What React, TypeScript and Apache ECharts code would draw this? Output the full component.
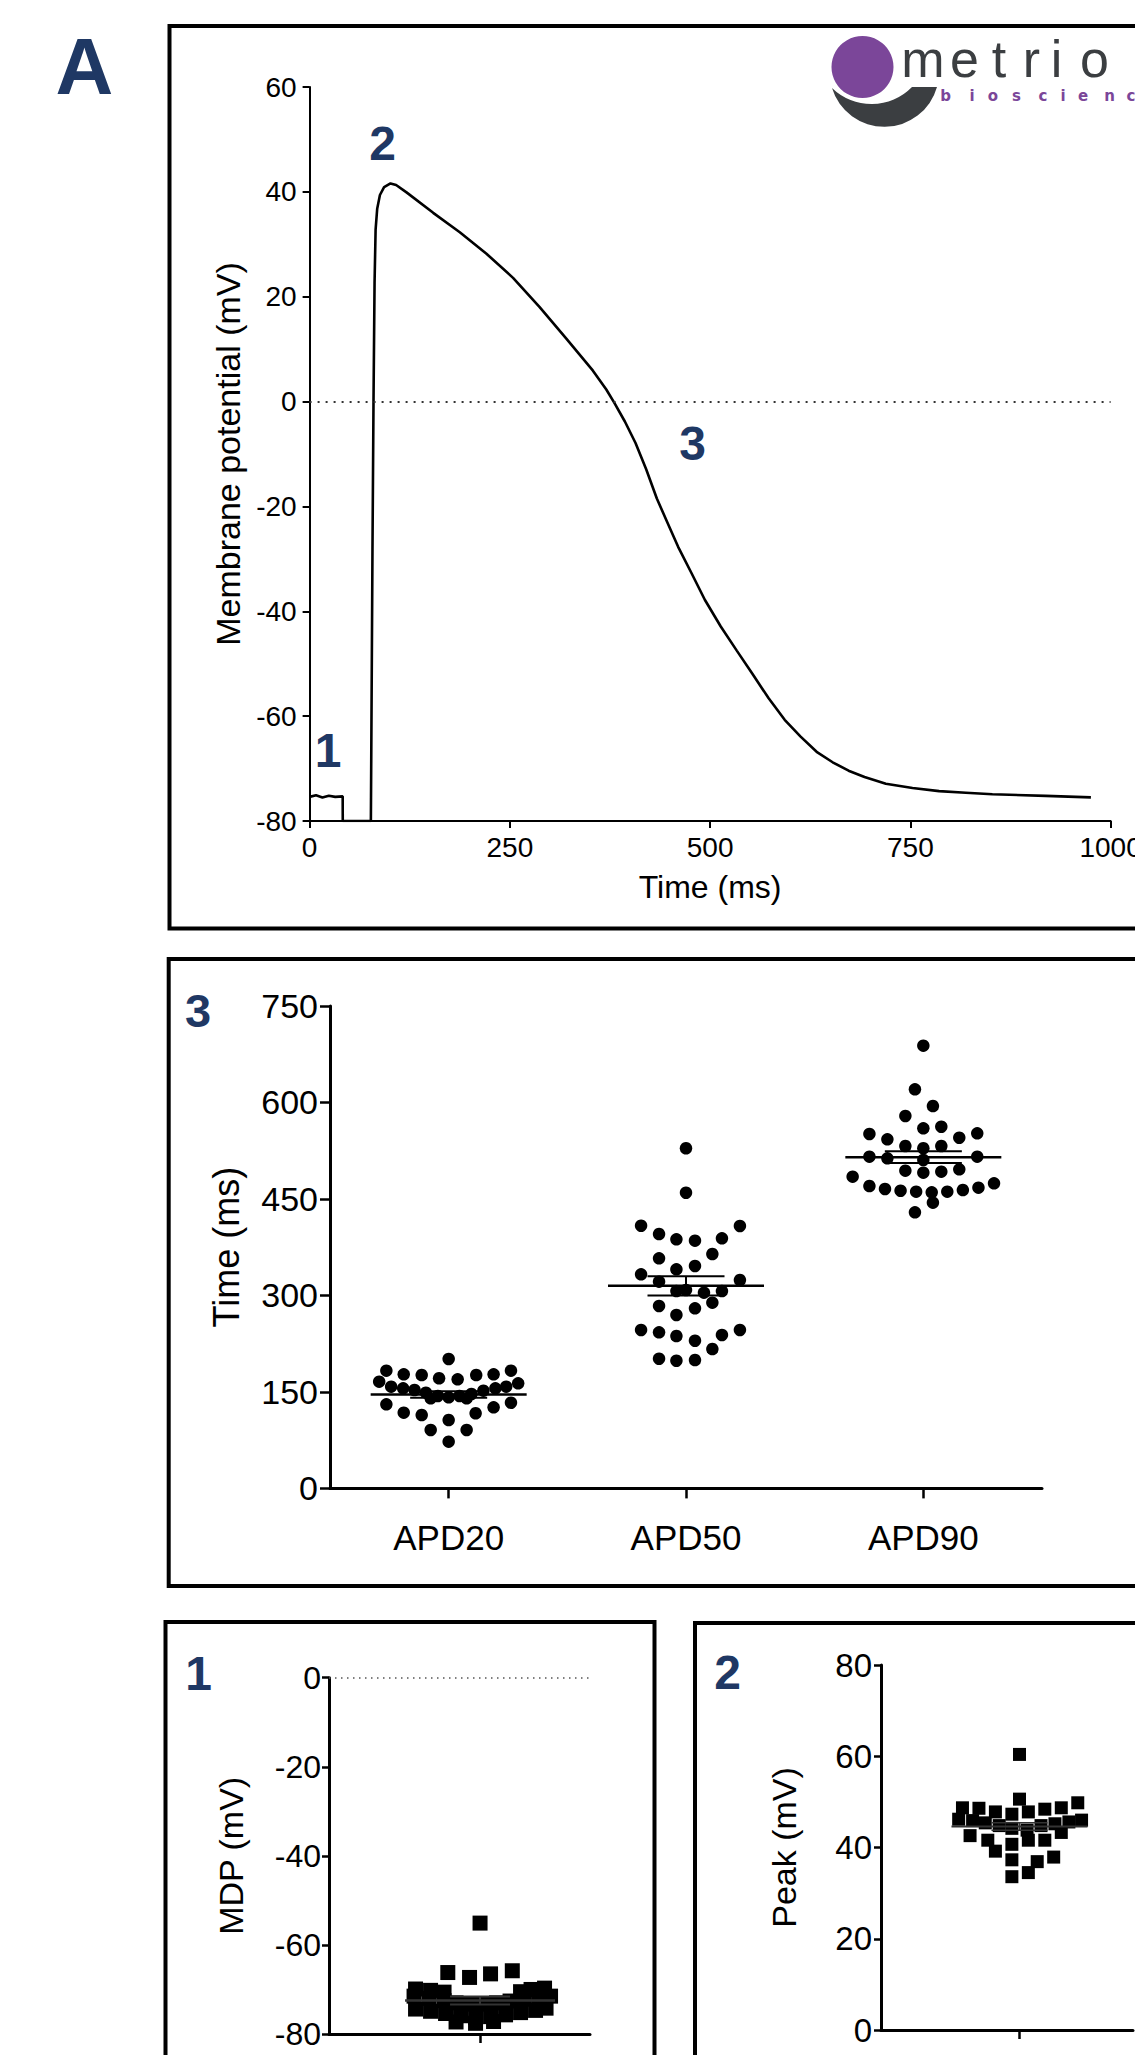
import React, { useEffect, useRef } from "react";
import * as echarts from "echarts";

// ---------- Panel A: action potential trace ----------
const apTime = [0, 8, 16, 24, 32, 41.3, 41.4, 76.5, 78.5, 79.8, 81.1, 82.4, 84.4, 87.8, 93.0, 101.0, 108.0, 121.0, 154.3, 187.5, 220.8, 254.0, 287.2, 320.5, 353.7, 370.4, 380.3, 393.6, 406.9, 420.2, 433.5, 446.8, 460.1, 476.7, 493.4, 513.3, 533.3, 553.2, 573.1, 593.1, 613.0, 633.0, 653.0, 672.9, 692.8, 719.4, 752.7, 785.9, 819.2, 852.4, 918.9, 975.4];
const apVoltage = [-75.4, -75.1, -75.5, -75.2, -75.4, -75.3, -80, -80, -28.2, 0.3, 22.6, 32.8, 36.8, 39.4, 40.9, 41.6, 41.3, 39.9, 36.0, 32.3, 28.2, 23.6, 18.0, 12.0, 5.9, 2.3, -0.2, -3.8, -7.9, -12.9, -18.5, -23.1, -27.7, -32.7, -37.8, -42.9, -47.5, -52.0, -56.6, -60.7, -63.9, -66.8, -68.8, -70.4, -71.6, -72.9, -73.7, -74.3, -74.6, -74.9, -75.2, -75.5];

// ---------- Panel 3: APD ----------
const apdCategories = ["APD20", "APD50", "APD90"];
const apd20Values = [201.2, 183, 177.4, 176.3, 171.2, 169.6, 176.3, 177.4, 183, 165.9, 163.4, 158.1, 155.6, 153, 148.8, 143.7, 141.6, 143.7, 146.8, 151.9, 155.6, 158.1, 130.7, 133.2, 117.7, 126.1, 114.1, 116.8, 106.3, 90.8, 90.8, 72.6, 140, 140];
const apd20Offsets = [0, -5.2, -3.75, -2.25, -0.8, 0.75, 2.3, 3.75, 5.2, -5.8, 5.8, -4.8, -3.8, -2.85, -1.9, -0.9, 0, 0.9, 1.9, 2.9, 3.9, 4.8, -5.2, 5.2, -3.75, 3.75, -2.25, 2.25, 0, -1.5, 1.5, 0, -1.5, 1.5];
const apd50Values = [528.8, 459.7, 408.4, 408, 395.5, 387.3, 385.1, 388.8, 364.4, 357.7, 340.6, 345.8, 332.8, 324, 321.4, 306.9, 304.3, 306.9, 288.7, 283.6, 280, 269.6, 246.3, 242.7, 236.9, 229.6, 238.5, 246.3, 216.7, 201.6, 198.5, 199.6, 308.5];
const apd50Offsets = [0, 0, -3.75, 4.5, -2.25, -0.8, 0.75, 3, 2.2, -2.25, -0.8, 0.75, -3.75, 4.5, -2.25, -0.8, 1.5, 3, 2.2, -2.25, 0.75, -0.8, -3.75, -2.25, -0.8, 0.75, 3, 4.5, 2.2, -2.25, -0.8, 0.75, 0];
const apd90Values = [688.3, 620.5, 594.5, 579, 559.8, 562.3, 551, 552, 542.7, 545.2, 532.3, 528.8, 532.3, 515.7, 513.2, 515.7, 510.6, 494, 490.9, 492.4, 496.1, 484.6, 474.3, 470.1, 465.5, 462.8, 461.3, 460.3, 461.3, 463.9, 467.5, 444.2, 429.2];
const apd90Offsets = [0, -0.7, 0.8, -1.5, 0, 1.5, -4.5, 4.5, -3, 3, -1.5, 0, 1.5, -4.5, -3, 4.5, 0, -1.5, 0, 1.5, 3, -5.9, 5.9, -4.5, -3.2, -1.9, -0.6, 0.7, 2, 3.3, 4.6, 0.8, -0.7];
const apdMeans = [146, 315, 515];
const apdSems = [5, 15, 9];

// ---------- Panel 1: MDP ----------
const mdpValues = [-55.1, -66.2, -67.3, -66.5, -65.8, -69.9, -70.2, -70.6, -70.5, -70.0, -69.7, -71.5, -72.0, -72.5, -73.0, -73.3, -73.3, -73.0, -72.6, -72.2, -71.8, -71.5, -74.4, -74.9, -75.4, -75.9, -76.3, -76.1, -75.7, -75.2, -74.7, -74.2, -77.3, -77.6, -77.2];
const mdpOffsets = [0, -2.15, -0.7, 0.7, 2.15, -4.3, -3.3, -2.4, 2.7, 3.4, 4.3, -4.4, -3.4, -2.4, -1.6, -0.7, 0.2, 1.1, 2, 2.9, 3.9, 4.7, -4.3, -3.3, -2.3, -1.3, -0.3, 0.7, 1.7, 2.7, 3.7, 4.4, -1.6, -0.3, 0.9];
const mdpMean = -72.5;
const mdpSem = 0.9;

// ---------- Panel 2: Peak ----------
const peakValues = [60.4, 50.6, 48.7, 48.6, 47.8, 47.3, 47.8, 48.4, 48.7, 49.8, 46.2, 45.9, 45.4, 44.8, 44.2, 43.8, 44.8, 45.2, 45.6, 46.0, 42.6, 41.6, 40.7, 41.6, 41.6, 43.3, 39.2, 37.3, 36.9, 37.9, 33.6, 34.5];
const peakOffsets = [0, 0, -4.5, -3.2, -1.9, -0.6, 0.7, 2, 3.3, 4.6, -4.8, -3.7, -2.7, -1.6, -0.6, 0.6, 1.7, 2.8, 3.9, 4.9, -3.9, -2.5, -0.6, 0.7, 2, 3.3, -1.9, -0.6, 1.4, 2.7, -0.6, 0.7];
const peakMean = 44.6;
const peakSem = 0.8;

// ---------- styling constants ----------
const NAVY = "#1f3864";
const PURPLE = "#7b4699";
const LOGO_GREY = "#3b3e41";
const ARIAL = "Liberation Sans";
const APD_UNIT = 12 / 237.7; // one dot pitch in category units

const CRESCENT_D = "M832 88 A54.7 54.7 0 0 0 937 87 L912 87 A56.6 56.6 0 0 1 832 88 Z";
let crescentRegistered = false;

function meanSem(halfWidth: number, capHalf: number, lw: number, color: string) {
  return (_params: any, api: any) => {
    const x = api.value(0);
    const m = api.value(1);
    const s = api.value(2);
    const c = api.coord([x, m]);
    const hi = api.coord([x, m + s]);
    const lo = api.coord([x, m - s]);
    const st = { stroke: color, lineWidth: lw };
    const thin = { stroke: color, lineWidth: Math.max(1.5, lw - 0.5) };
    return {
      type: "group",
      children: [
        { type: "line", shape: { x1: c[0] - halfWidth, y1: c[1], x2: c[0] + halfWidth, y2: c[1] }, style: st },
        { type: "line", shape: { x1: c[0], y1: hi[1], x2: c[0], y2: lo[1] }, style: thin },
        { type: "line", shape: { x1: c[0] - capHalf, y1: hi[1], x2: c[0] + capHalf, y2: hi[1] }, style: thin },
        { type: "line", shape: { x1: c[0] - capHalf, y1: lo[1], x2: c[0] + capHalf, y2: lo[1] }, style: thin },
      ],
    };
  };
}

function axisBase(width: number) {
  return {
    axisLine: { show: true, onZero: false, lineStyle: { color: "#000", width } },
    splitLine: { show: false },
  };
}

function panelLabel(text: string, x: number, y: number, size: number) {
  return {
    type: "text",
    x,
    y,
    z: 10,
    style: {
      text,
      fill: NAVY,
      fontFamily: ARIAL,
      fontWeight: "bold",
      fontSize: size,
      align: "center",
      verticalAlign: "middle",
    },
  };
}

function box(x: number, y: number, w: number, h: number) {
  return {
    type: "rect",
    z: 0,
    shape: { x, y, width: w, height: h },
    style: { fill: "none", stroke: "#000", lineWidth: 4 },
  };
}

const metrioLetters = ["m", "e", "t", "r", "i", "o"];
const metrioX = [923, 964.5, 999, 1031.5, 1056.5, 1094.5];
const bioLetters = ["b", "i", "o", "s", "c", "i", "e", "n", "c"];
const bioX = [945.5, 972, 993, 1016.5, 1043, 1063, 1083, 1109.5, 1131];

export default function App() {
  const ref = useRef<HTMLDivElement>(null);

  useEffect(() => {
    if (!ref.current) return;
    if (!crescentRegistered) {
      echarts.graphic.registerShape("crescent", echarts.graphic.extendPath(CRESCENT_D, {}));
      crescentRegistered = true;
    }
    const chart = echarts.init(ref.current, null, { renderer: "svg", width: 1135, height: 2055 });

    const logo: any[] = [
      { type: "crescent", z: 1, x: 0, y: 0, scaleX: 1, scaleY: 1, style: { fill: LOGO_GREY } },
      { type: "circle", z: 3, shape: { cx: 862.5, cy: 67, r: 31 }, style: { fill: PURPLE } },
      ...metrioLetters.map((ch, i) => ({
        type: "text",
        z: 4,
        x: metrioX[i],
        y: 58.5,
        style: { text: ch, fill: LOGO_GREY, fontFamily: ARIAL, fontWeight: "normal", fontSize: 52, align: "center", verticalAlign: "middle" },
      })),
      ...bioLetters.map((ch, i) => ({
        type: "text",
        z: 4,
        x: bioX[i],
        y: 96,
        style: { text: ch, fill: PURPLE, fontFamily: "DejaVu Sans", fontWeight: "bold", fontSize: 15, align: "center", verticalAlign: "middle" },
      })),
    ];

    const option: any = {
      animation: false,
      backgroundColor: "#fff",
      textStyle: { fontFamily: ARIAL, color: "#000" },
      grid: [
        { left: 309.6, top: 87, width: 801, height: 734, outerBoundsMode: "none" },
        { left: 330, top: 1006, width: 712, height: 482.4, outerBoundsMode: "none" },
        { left: 329, top: 1677.7, width: 261, height: 356.3, outerBoundsMode: "none" },
        { left: 881, top: 1665, width: 252, height: 365, outerBoundsMode: "none" },
      ],
      xAxis: [
        {
          type: "value", gridIndex: 0, min: 0, max: 1000, interval: 250,
          ...axisBase(2),
          axisTick: { show: true, length: 7, lineStyle: { color: "#000", width: 2 } },
          axisLabel: { color: "#000", fontSize: 28, fontFamily: ARIAL, margin: 12, formatter: (v: number) => String(v) },
          name: "Time (ms)", nameLocation: "middle", nameGap: 50,
          nameTextStyle: { color: "#000", fontSize: 32, fontFamily: ARIAL },
        },
        {
          type: "category", gridIndex: 1, data: apdCategories, boundaryGap: true,
          ...axisBase(3),
          axisTick: { show: true, alignWithLabel: true, length: 10, lineStyle: { color: "#000", width: 2.5 } },
          axisLabel: { color: "#000", fontSize: 35, fontFamily: ARIAL, margin: 32 },
        },
        { type: "value", gridIndex: 1, min: 0, max: 3, show: false },
        {
          type: "value", gridIndex: 2, min: -10.07, max: 7.33,
          ...axisBase(3),
          axisTick: { show: true, customValues: [0], length: 9, lineStyle: { color: "#000", width: 2.5 } },
          axisLabel: { show: false },
        },
        {
          type: "value", gridIndex: 3, min: -10.93, max: 8.96,
          ...axisBase(3),
          axisTick: { show: true, customValues: [0], length: 9, lineStyle: { color: "#000", width: 2.5 } },
          axisLabel: { show: false },
        },
      ],
      yAxis: [
        {
          type: "value", gridIndex: 0, min: -80, max: 60, interval: 20,
          ...axisBase(2),
          axisTick: { show: true, length: 7, lineStyle: { color: "#000", width: 2 } },
          axisLabel: { color: "#000", fontSize: 28, fontFamily: ARIAL, margin: 13 },
          name: "Membrane potential (mV)", nameLocation: "middle", nameGap: 60,
          nameTextStyle: { color: "#000", fontSize: 34, fontFamily: ARIAL },
        },
        {
          type: "value", gridIndex: 1, min: 0, max: 750, interval: 150,
          ...axisBase(3),
          axisTick: { show: true, length: 10, lineStyle: { color: "#000", width: 2.5 } },
          axisLabel: { color: "#000", fontSize: 34, fontFamily: ARIAL, margin: 12 },
          name: "Time (ms)", nameLocation: "middle", nameGap: 86,
          nameTextStyle: { color: "#000", fontSize: 36, fontFamily: ARIAL },
        },
        {
          type: "value", gridIndex: 2, min: -80, max: 0, interval: 20,
          ...axisBase(3),
          axisTick: { show: true, length: 7, lineStyle: { color: "#000", width: 2.5 } },
          axisLabel: { color: "#000", fontSize: 32, fontFamily: ARIAL, margin: 8 },
          name: "MDP (mV)", nameLocation: "middle", nameGap: 81,
          nameTextStyle: { color: "#000", fontSize: 34, fontFamily: ARIAL },
        },
        {
          type: "value", gridIndex: 3, min: 0, max: 80, interval: 20,
          ...axisBase(3),
          axisTick: { show: true, length: 7, lineStyle: { color: "#000", width: 2.5 } },
          axisLabel: { color: "#000", fontSize: 33, fontFamily: ARIAL, margin: 9 },
          name: "Peak (mV)", nameLocation: "middle", nameGap: 80,
          nameTextStyle: { color: "#000", fontSize: 34, fontFamily: ARIAL },
        },
      ],
      series: [
        {
          type: "line", xAxisIndex: 0, yAxisIndex: 0,
          data: apTime.map((t, i) => [t, apVoltage[i]]),
          symbol: "none", smooth: false,
          lineStyle: { color: "#000", width: 2.6 },
          markLine: {
            silent: true, symbol: "none", label: { show: false },
            lineStyle: { color: "#333", width: 2, type: [2, 6] },
            data: [{ yAxis: 0 }],
          },
          z: 3,
        },
        ...[apd20Values, apd50Values, apd90Values].map((vals, ci) => {
          const offs = [apd20Offsets, apd50Offsets, apd90Offsets][ci];
          return {
            type: "scatter", xAxisIndex: 2, yAxisIndex: 1,
            data: vals.map((v, i) => [ci + 0.5 + offs[i] * APD_UNIT, v]),
            symbol: "circle", symbolSize: 12.5,
            itemStyle: { color: "#000", opacity: 1 },
            z: 2,
          };
        }),
        {
          type: "custom", xAxisIndex: 2, yAxisIndex: 1,
          data: apdMeans.map((m, i) => [i + 0.5, m, apdSems[i]]),
          encode: { x: 0, y: 1 },
          renderItem: meanSem(78, 38.5, 2.5, "#000"),
          z: 5,
        },
        {
          type: "scatter", xAxisIndex: 3, yAxisIndex: 2,
          data: mdpValues.map((v, i) => [mdpOffsets[i], v]),
          symbol: "rect", symbolSize: 15,
          itemStyle: { color: "#000", opacity: 1 },
          markLine: {
            silent: true, symbol: "none", label: { show: false },
            lineStyle: { color: "#555", width: 1.5, type: [1.5, 4.5] },
            data: [{ yAxis: 0 }],
          },
          z: 2,
        },
        {
          type: "custom", xAxisIndex: 3, yAxisIndex: 2,
          data: [[0, mdpMean, mdpSem]],
          encode: { x: 0, y: 1 },
          renderItem: meanSem(75, 30, 2.5, "#333"),
          z: 5,
        },
        {
          type: "scatter", xAxisIndex: 4, yAxisIndex: 3,
          data: peakValues.map((v, i) => [peakOffsets[i], v]),
          symbol: "rect", symbolSize: 13,
          itemStyle: { color: "#000", opacity: 1 },
          z: 2,
        },
        {
          type: "custom", xAxisIndex: 4, yAxisIndex: 3,
          data: [[0, peakMean, peakSem]],
          encode: { x: 0, y: 1 },
          renderItem: meanSem(68, 28, 2, "#333"),
          z: 5,
        },
      ],
      graphic: [
        box(169.5, 26, 1100, 902.5),
        box(168.7, 959, 1100, 627),
        box(165.5, 1622, 489, 600),
        box(695, 1623, 600, 600),
        {
          type: "text", x: 84.5, y: 66, z: 10,
          style: { text: "A", fill: NAVY, fontFamily: ARIAL, fontWeight: "bold", fontSize: 80, align: "center", verticalAlign: "middle" },
        },
        panelLabel("2", 382.5, 143, 48),
        panelLabel("3", 692.5, 443, 48),
        panelLabel("1", 328, 750, 48),
        panelLabel("3", 198, 1010, 47),
        panelLabel("1", 198.5, 1673, 48),
        panelLabel("2", 727.5, 1672, 48),
        ...logo,
      ],
    };

    chart.setOption(option);
    return () => chart.dispose();
  }, []);

  return <div ref={ref} style={{ position: "absolute", left: 0, top: 0, width: 1135, height: 2055 }} />;
}
